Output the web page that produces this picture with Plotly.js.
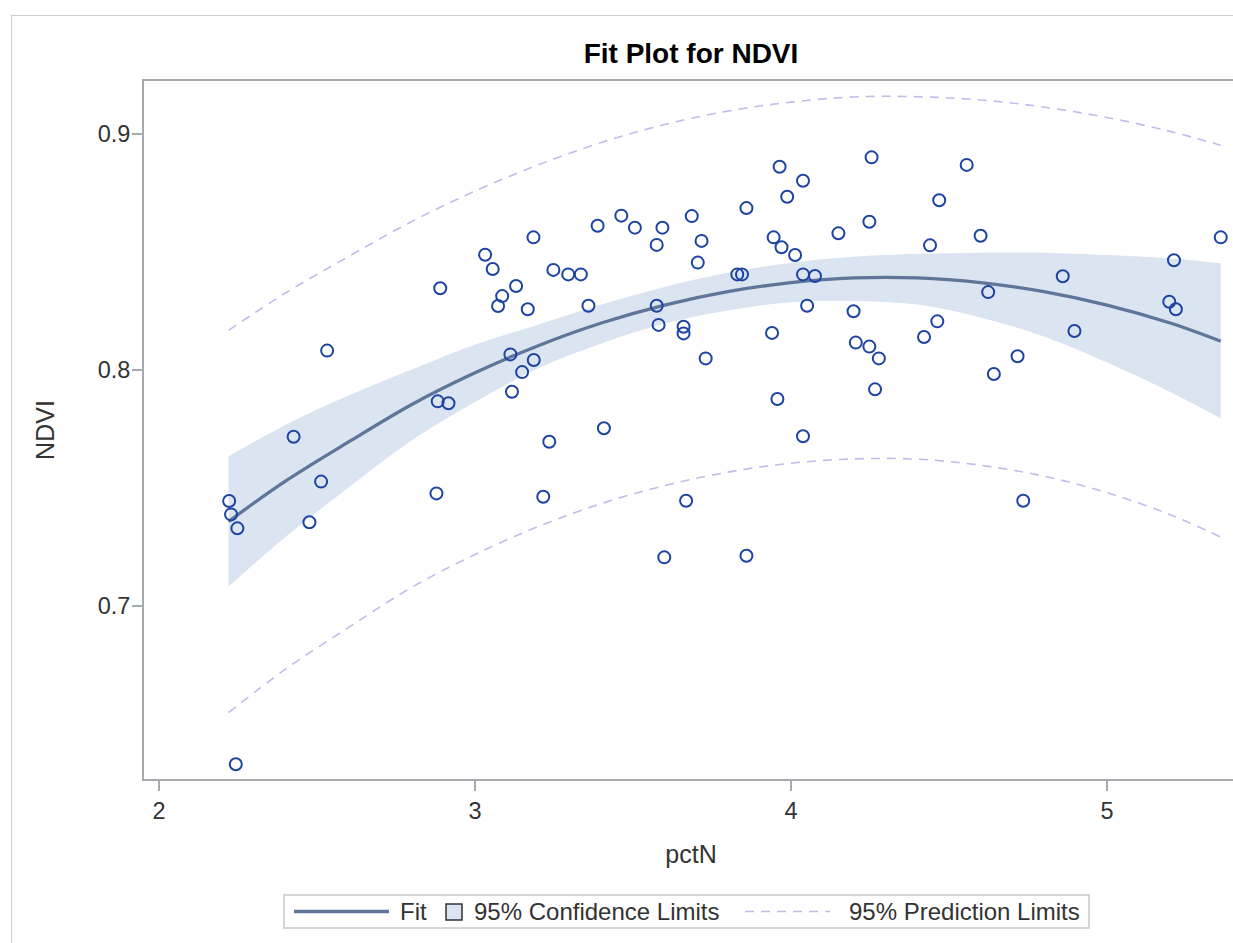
<!DOCTYPE html>
<html>
<head>
<meta charset="utf-8">
<script src="https://cdn.plot.ly/plotly-3.0.1.min.js"></script>
<style>
  html, body { margin:0; padding:0; background:#fff; overflow:hidden; width:1233px; height:943px; }
  #frame { position:absolute; left:11px; top:15px; border-left:1px solid #cfcfcf; border-top:1px solid #cfcfcf; width:1300px; height:960px; }
  #chart { position:absolute; left:0; top:0; }
</style>
</head>
<body>
<div id="frame"><div id="chart"></div></div>
<script>
const pctN = [2.222, 2.228, 2.248, 2.243, 2.426, 2.476, 2.513, 2.532, 2.878, 2.890, 2.882, 2.916,
  3.032, 3.056, 3.086, 3.073, 3.130, 3.167, 3.185, 3.112, 3.149, 3.186, 3.117, 3.216,
  3.235, 3.248, 3.295, 3.335, 3.388, 3.463, 3.506, 3.593, 3.575, 3.686, 3.717, 3.705,
  3.359, 3.575, 3.581, 3.660, 3.660, 3.730, 3.408, 3.668, 3.599, 3.859, 3.830, 3.845,
  3.859, 3.964, 4.038, 3.988, 3.945, 3.970, 4.013, 4.038, 4.076, 4.051, 3.940, 3.957,
  4.038, 4.150, 4.248, 4.255, 4.198, 4.205, 4.248, 4.278, 4.266, 4.556, 4.469, 4.600,
  4.440, 5.360, 5.212, 4.860, 4.624, 5.197, 5.218, 4.463, 4.421, 4.897, 4.717, 4.642, 4.735];
const NDVI = [0.7443, 0.7386, 0.7327, 0.6327, 0.7715, 0.7353, 0.7525, 0.8080, 0.7475, 0.8344, 0.7865, 0.7857,
  0.8486, 0.8426, 0.8311, 0.8269, 0.8354, 0.8255, 0.8560, 0.8064, 0.7989, 0.8040, 0.7906, 0.7461,
  0.7694, 0.8422, 0.8403, 0.8403, 0.8609, 0.8652, 0.8601, 0.8601, 0.8528, 0.8650, 0.8545, 0.8453,
  0.8270, 0.8270, 0.8189, 0.8181, 0.8153, 0.8047, 0.7751, 0.7444, 0.7204, 0.7211, 0.8403, 0.8403,
  0.8684, 0.8859, 0.8800, 0.8732, 0.8560, 0.8518, 0.8485, 0.8403, 0.8396, 0.8270, 0.8155, 0.7875,
  0.7717, 0.8577, 0.8626, 0.8899, 0.8247, 0.8114, 0.8097, 0.8047, 0.7916, 0.8867, 0.8717, 0.8567,
  0.8526, 0.8560, 0.8463, 0.8395, 0.8328, 0.8287, 0.8255, 0.8204, 0.8138, 0.8163, 0.8056, 0.7981, 0.7444];

// Fit curve and limits
const fitX   = [2.22, 2.4, 2.6, 2.8, 3.0, 3.2, 3.4, 3.6, 3.8, 4.0, 4.2, 4.4, 4.6, 4.8, 5.0, 5.2, 5.36];
const fitY   = [0.7356, 0.7527, 0.7693, 0.7852, 0.7986, 0.8101, 0.8197, 0.8273, 0.8330, 0.8368, 0.8388, 0.8388, 0.8368, 0.8330, 0.8273, 0.8197, 0.8120];
const clUpper = [0.7632, 0.7765, 0.7890, 0.8000, 0.8105, 0.8190, 0.8275, 0.8350, 0.8410, 0.8452, 0.8478, 0.8490, 0.8495, 0.8495, 0.8485, 0.8470, 0.8450];
const clLower = [0.7080, 0.7290, 0.7500, 0.7700, 0.7862, 0.8005, 0.8110, 0.8195, 0.8250, 0.8285, 0.8290, 0.8275, 0.8220, 0.8140, 0.8030, 0.7905, 0.7793];
const plUpper = [0.8166, 0.8324, 0.8479, 0.8627, 0.8756, 0.8867, 0.8962, 0.9038, 0.9095, 0.9133, 0.9155, 0.9156, 0.9142, 0.9112, 0.9068, 0.9009, 0.8950];
const plLower = [0.6546, 0.6730, 0.6907, 0.7077, 0.7216, 0.7335, 0.7432, 0.7508, 0.7565, 0.7603, 0.7621, 0.7620, 0.7594, 0.7548, 0.7478, 0.7385, 0.7290];

const xTickVals = [2, 3, 4, 5];
const xTickText = ['2', '3', '4', '5'];
const yTickVals = [0.7, 0.8, 0.9];
const yTickText = ['0.7', '0.8', '0.9'];
const legendLabels = ['Fit', '95% Confidence Limits', '95% Prediction Limits'];

const C_FIT = '#5f7599', C_BAND = '#dbe4f1', C_PL = '#bcc0e8', C_PT = '#1d43a3', C_AX = '#a6a9ad';

const traces = [
  {x: fitX, y: clLower, type:'scatter', mode:'lines', line:{width:0, color:C_BAND, shape:'spline'}, showlegend:false, hoverinfo:'skip'},
  {x: fitX, y: clUpper, type:'scatter', mode:'lines', fill:'tonexty', fillcolor:C_BAND, line:{width:0, color:C_BAND, shape:'spline'}, name:legendLabels[1], showlegend:false},
  {x: fitX, y: plUpper, type:'scatter', mode:'lines', line:{color:C_PL, width:1.6, dash:'9px,7px', shape:'spline'}, name:legendLabels[2], showlegend:false},
  {x: fitX, y: plLower, type:'scatter', mode:'lines', line:{color:C_PL, width:1.6, dash:'9px,7px', shape:'spline'}, showlegend:false},
  {x: fitX, y: fitY, type:'scatter', mode:'lines', line:{color:C_FIT, width:3.3, shape:'spline'}, name:legendLabels[0], showlegend:false},
  {x: pctN, y: NDVI, type:'scatter', mode:'markers', marker:{symbol:'circle-open', size:12, color:C_PT, line:{width:2, color:C_PT}}, name:'NDVI', showlegend:false}
];

// plot area geometry in pixels (inside chart div)
const W = 1286, H = 927, ML = 132, MT = 65, PW = 1094, PH = 698;
const px = v => (v - (ML + 12)) / PW;        // page x -> paper x
const py = v => ((MT + 16 + PH) - v) / PH;   // page y -> paper y

const shapes = [
  {type:'rect', xref:'paper', yref:'paper', x0:px(284), x1:px(1089), y0:py(895), y1:py(928), line:{color:'#c9c9c9', width:1.5}, fillcolor:'rgba(0,0,0,0)'},
  {type:'line', xref:'paper', yref:'paper', x0:px(294), x1:px(389), y0:py(911.5), y1:py(911.5), line:{color:C_FIT, width:3.5}},
  {type:'rect', xref:'paper', yref:'paper', x0:px(446), x1:px(462), y0:py(904), y1:py(920), line:{color:'#333', width:1.5}, fillcolor:C_BAND},
  {type:'line', xref:'paper', yref:'paper', x0:px(745), x1:px(830), y0:py(911.5), y1:py(911.5), line:{color:C_PL, width:1.6, dash:'9px,7px'}}
];
const legFont = {size:24, color:'#333'};
const annotations = [
  {xref:'paper', yref:'paper', x:px(398), y:py(911.5), xanchor:'left', yanchor:'middle', text:legendLabels[0], showarrow:false, font:legFont},
  {xref:'paper', yref:'paper', x:px(472), y:py(911.5), xanchor:'left', yanchor:'middle', text:legendLabels[1], showarrow:false, font:legFont},
  {xref:'paper', yref:'paper', x:px(847), y:py(911.5), xanchor:'left', yanchor:'middle', text:legendLabels[2], showarrow:false, font:legFont}
];

const axisCommon = {
  ticks:'outside', ticklen:10, tickwidth:2, tickcolor:C_AX,
  showline:true, linecolor:C_AX, linewidth:2, mirror:true,
  showgrid:false, zeroline:false, tickfont:{size:23.5, color:'#333'}
};

const layout = {
  width: W, height: H,
  margin: {l:ML, r:W-ML-PW, t:MT, b:H-MT-PH, pad:0},
  paper_bgcolor:'#fff', plot_bgcolor:'#fff',
  font: {family:'"Liberation Sans", Arial, sans-serif', color:'#333'},
  title: {text:'<b>Fit Plot for NDVI</b>', font:{size:28, color:'#000'}, x:0.5, xref:'paper', xanchor:'center', y:1-37/H, yref:'container', yanchor:'middle'},
  xaxis: Object.assign({}, axisCommon, {range:[1.9525, 5.4146], tickvals:xTickVals, ticktext:xTickText,
    title:{text:'pctN', font:{size:25, color:'#333'}, standoff:22}}),
  yaxis: Object.assign({}, axisCommon, {range:[0.62648, 0.92225], tickvals:yTickVals, ticktext:yTickText, ticklabelstandoff:-3,
    title:{text:'NDVI', font:{size:25, color:'#333'}, standoff:36}}),
  shapes: shapes, annotations: annotations, showlegend:false
};

Plotly.newPlot('chart', traces, layout, {staticPlot:true, displayModeBar:false});
</script>
</body>
</html>
